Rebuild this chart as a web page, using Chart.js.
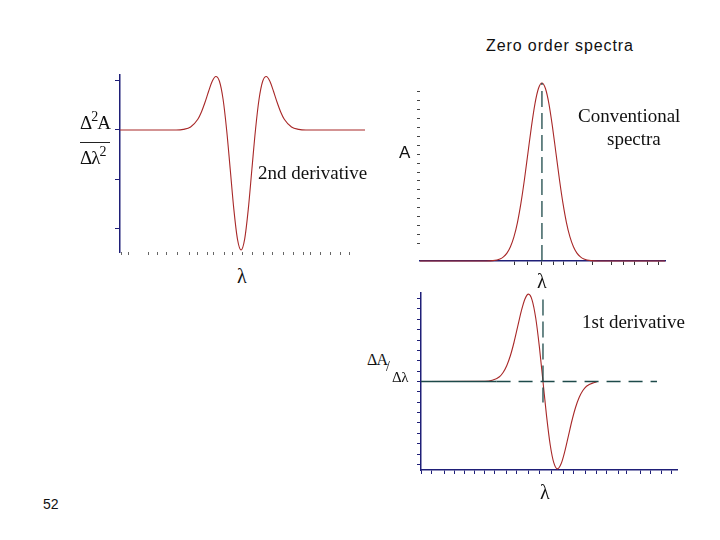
<!DOCTYPE html>
<html>
<head>
<meta charset="utf-8">
<script src="https://cdn.jsdelivr.net/npm/chart.js@4/dist/chart.umd.min.js"></script>
<style>
  html, body { margin:0; padding:0; background:#fff; }
  body { width:720px; height:540px; position:relative; overflow:hidden; }
  .cv { position:absolute; }
  .t { position:absolute; white-space:nowrap; color:#111; line-height:1; }
  .serif { font-family:"Liberation Serif","DejaVu Serif",serif; }
  .sans { font-family:"Liberation Sans",Arial,sans-serif; }
</style>
</head>
<body>
<div class="cv" style="left:105px;top:65px;width:275px;height:200px;"><canvas id="c1"></canvas></div>
<div class="cv" style="left:400px;top:70px;width:280px;height:205px;"><canvas id="c2"></canvas></div>
<div class="cv" style="left:400px;top:283px;width:290px;height:200px;"><canvas id="c3"></canvas></div>

<div class="t sans" style="left:486px;top:38px;font-size:16px;letter-spacing:0.9px;">Zero order spectra</div>
<div class="t sans" style="left:43px;top:497px;font-size:14px;">52</div>

<!-- chart 1 labels -->
<div class="t serif" style="left:80px;top:111px;font-size:19px;letter-spacing:-1px;">Δ<sup style="font-size:14px;position:relative;top:-1px;">2</sup>A</div>
<div style="position:absolute;left:80px;top:142px;width:30px;height:1px;background:#222;"></div>
<div class="t serif" style="left:80px;top:146px;font-size:19px;letter-spacing:-1px;">Δλ<sup style="font-size:14px;position:relative;top:-1px;">2</sup></div>
<div class="t serif" style="left:258px;top:163px;font-size:19px;">2nd derivative</div>
<div class="t serif" style="left:237px;top:266px;font-size:20px;">λ</div>

<!-- chart 2 labels -->
<div class="t sans" style="left:399px;top:144px;font-size:17px;">A</div>
<div class="t serif" style="left:578px;top:106px;font-size:19px;">Conventional</div>
<div class="t serif" style="left:607px;top:129px;font-size:19px;">spectra</div>
<div class="t serif" style="left:537px;top:271px;font-size:20px;">λ</div>

<!-- chart 3 labels -->
<div class="t serif" style="left:367px;top:352px;font-size:16px;letter-spacing:-0.8px;">ΔA</div>
<div class="t serif" style="left:386px;top:360px;font-size:14px;">/</div>
<div class="t serif" style="left:392px;top:370px;font-size:15px;letter-spacing:-0.5px;">Δλ</div>
<div class="t serif" style="left:582px;top:312px;font-size:19px;">1st derivative</div>
<div class="t serif" style="left:540px;top:482px;font-size:20px;">λ</div>

<script>
// ---------- data ----------
// Chart 1: 2nd derivative
const d2Lambda = [-8.4, -4.5, -4, -3.5, -3, -2.75, -2.5, -2.25, -2, -1.75, -1.5, -1.25, -1, -0.75, -0.5, -0.25, 0, 0.25, 0.5, 0.75, 1, 1.25, 1.5, 1.75, 2, 2.25, 2.5, 2.75, 3, 3.5, 4, 4.5, 8.6];
const d2Values = [0, 0, 0.005, 0.025, 0.089, 0.15, 0.231, 0.323, 0.406, 0.446, 0.406, 0.258, 0, -0.33, -0.662, -0.909, -1, -0.909, -0.662, -0.33, 0, 0.258, 0.406, 0.446, 0.406, 0.323, 0.231, 0.15, 0.089, 0.025, 0.005, 0, 0];
const d2YTicks = [0.41, 0, -0.41, -0.82];
const d2XTicks = [-8.28, -7.78, -6.39, -5.83, -5.14, -4.38, -3.61, -2.99, -2.36, -1.88, -1.18, -0.56, 0.07, 0.76, 1.53, 2.15, 2.92, 3.61, 4.31, 4.79, 5.49, 6.18, 6.88, 7.5];

// Chart 2: conventional spectrum
const absLambda = [-8.71, -4, -3.5, -3, -2.75, -2.5, -2.25, -2, -1.75, -1.5, -1.25, -1, -0.75, -0.5, -0.25, 0, 0.25, 0.5, 0.75, 1, 1.25, 1.5, 1.75, 2, 2.25, 2.5, 2.75, 3, 3.5, 4, 8.79];
const absValues = [0, 0.0003, 0.002, 0.011, 0.023, 0.044, 0.08, 0.135, 0.216, 0.325, 0.458, 0.607, 0.755, 0.883, 0.969, 1, 0.969, 0.883, 0.755, 0.607, 0.458, 0.325, 0.216, 0.135, 0.08, 0.044, 0.023, 0.011, 0.002, 0.0003, 0];
const absMarkLambda = [0, 0];
const absMarkValues = [0, 1];
const absYTicks = [0.1, 0.15, 0.2, 0.25, 0.3, 0.35, 0.4, 0.45, 0.5, 0.55, 0.6, 0.65, 0.7, 0.75, 0.8, 0.85, 0.9, 0.95];
const absXTicks = [-1.93, -1.0, 0, 0.79, 1.57, 2.5, 3.64, 5.0, 5.79, 6.64, 7.57, 8.29];

// Chart 3: 1st derivative
const d1Lambda = [-8.41, -4, -3.5, -3, -2.75, -2.5, -2.25, -2, -1.75, -1.5, -1.25, -1, -0.75, -0.5, -0.25, 0, 0.25, 0.5, 0.75, 1, 1.25, 1.5, 1.75, 2, 2.25, 2.5, 2.75, 3, 3.5, 3.7];
const d1Values = [0, 0.001, 0.008, 0.033, 0.063, 0.11, 0.179, 0.271, 0.379, 0.487, 0.572, 0.607, 0.566, 0.441, 0.242, 0, -0.242, -0.441, -0.566, -0.607, -0.572, -0.487, -0.379, -0.271, -0.179, -0.11, -0.063, -0.033, -0.008, -0.004];
const d1BaseLambda = [-8.41, -3.2, 7.86];
const d1BaseValues = [0, 0, 0];
const d1MarkLambda = [0, 0];
const d1MarkValues = [0.57, -0.146];
const d1YTicks = [0.576, 0.504, 0.432, 0.36, 0.288, 0.216, 0.144, 0.072, 0, -0.072, -0.144, -0.216, -0.288, -0.36, -0.432, -0.504, -0.576];
const d1XTicks = [-8.37, -7.68, -6.76, -6.07, -5.38, -4.69, -4.0, -3.31, -2.5, -1.81, -1.01, -0.21, 0.6, 1.4, 2.09, 2.9, 3.7, 4.39, 5.19, 5.77, 6.69, 7.38, 8.19, 8.88];

// ---------- helpers ----------
const RED = '#a82828';
const NAVY = '#1f1f78';
const TEAL = '#1d4a4a';
const pts = (xs, ys) => xs.map((x, i) => ({x, y: ys[i]}));
const fixedTicks = arr => (scale => { scale.ticks = arr.map(v => ({value: v})); });

Chart.defaults.animation = false;
Chart.defaults.responsive = true;
Chart.defaults.maintainAspectRatio = false;

const baseOpts = (pad, xs, ys) => ({
  layout: { padding: pad },
  plugins: { legend: { display: false }, tooltip: { enabled: false } },
  elements: { point: { radius: 0 } },
  events: [],
  scales: { x: xs, y: ys }
});

// Chart 1
new Chart(document.getElementById('c1'), {
  type: 'line',
  data: { datasets: [{
    data: pts(d2Lambda, d2Values), borderColor: RED, borderWidth: 1.1,
    cubicInterpolationMode: 'monotone', fill: false
  }]},
  options: baseOpts({left: 10, top: 10, right: 15, bottom: 10},
    { type: 'linear', min: -8.4, max: 8.6, afterBuildTicks: fixedTicks(d2XTicks),
      border: { display: false },
      grid: { drawOnChartArea: false, drawTicks: true, tickLength: 3, color: '#666', lineWidth: 1 },
      ticks: { display: false } },
    { type: 'linear', min: -1.017, max: 0.458, afterBuildTicks: fixedTicks(d2YTicks),
      border: { display: true, color: NAVY, width: 1.5 },
      grid: { drawOnChartArea: false, drawTicks: true, tickLength: 5, color: NAVY, lineWidth: 1 },
      ticks: { display: false } })
});

// Chart 2
new Chart(document.getElementById('c2'), {
  type: 'line',
  data: { datasets: [
    { data: pts(absMarkLambda, absMarkValues), borderColor: TEAL, borderWidth: 1.3,
      borderDash: [16, 6], order: 0, clip: false },
    { data: pts(absLambda, absValues), borderColor: RED, borderWidth: 1.1,
      cubicInterpolationMode: 'monotone', order: 1, clip: false }
  ]},
  options: baseOpts({left: 17, top: 13, right: 15, bottom: 10},
    { type: 'linear', min: -8.71, max: 8.79, afterBuildTicks: fixedTicks(absXTicks),
      border: { display: true, color: NAVY, width: 1.5 },
      grid: { drawOnChartArea: false, drawTicks: true, tickLength: 4, color: '#333', lineWidth: 1 },
      ticks: { display: false } },
    { type: 'linear', min: 0, max: 1, afterBuildTicks: fixedTicks(absYTicks),
      border: { display: false },
      grid: { drawOnChartArea: false, drawTicks: true, tickLength: 3, color: '#444', lineWidth: 1 },
      ticks: { display: false } })
});

// Chart 3
new Chart(document.getElementById('c3'), {
  type: 'line',
  data: { datasets: [
    { data: pts(d1BaseLambda, d1BaseValues), borderColor: TEAL, borderWidth: 1.3, order: 0,
      segment: { borderDash: ctx => ctx.p0DataIndex === 0 ? [] : [14, 8] } },
    { data: pts(d1MarkLambda, d1MarkValues), borderColor: TEAL, borderWidth: 1.3,
      borderDash: [16, 6], order: 0 },
    { data: pts(d1Lambda, d1Values), borderColor: RED, borderWidth: 1.1,
      cubicInterpolationMode: 'monotone', order: 1, clip: false }
  ]},
  options: baseOpts({left: 17, top: 10, right: 13, bottom: 9},
    { type: 'linear', min: -8.41, max: 9.24, afterBuildTicks: fixedTicks(d1XTicks),
      border: { display: true, color: NAVY, width: 1.5 },
      grid: { drawOnChartArea: false, drawTicks: true, tickLength: 4, color: NAVY, lineWidth: 1 },
      ticks: { display: false } },
    { type: 'linear', min: -0.615, max: 0.615, afterBuildTicks: fixedTicks(d1YTicks),
      border: { display: true, color: NAVY, width: 1.5 },
      grid: { drawOnChartArea: false, drawTicks: true, tickLength: 4, color: NAVY, lineWidth: 1 },
      ticks: { display: false } })
});
</script>
</body>
</html>
